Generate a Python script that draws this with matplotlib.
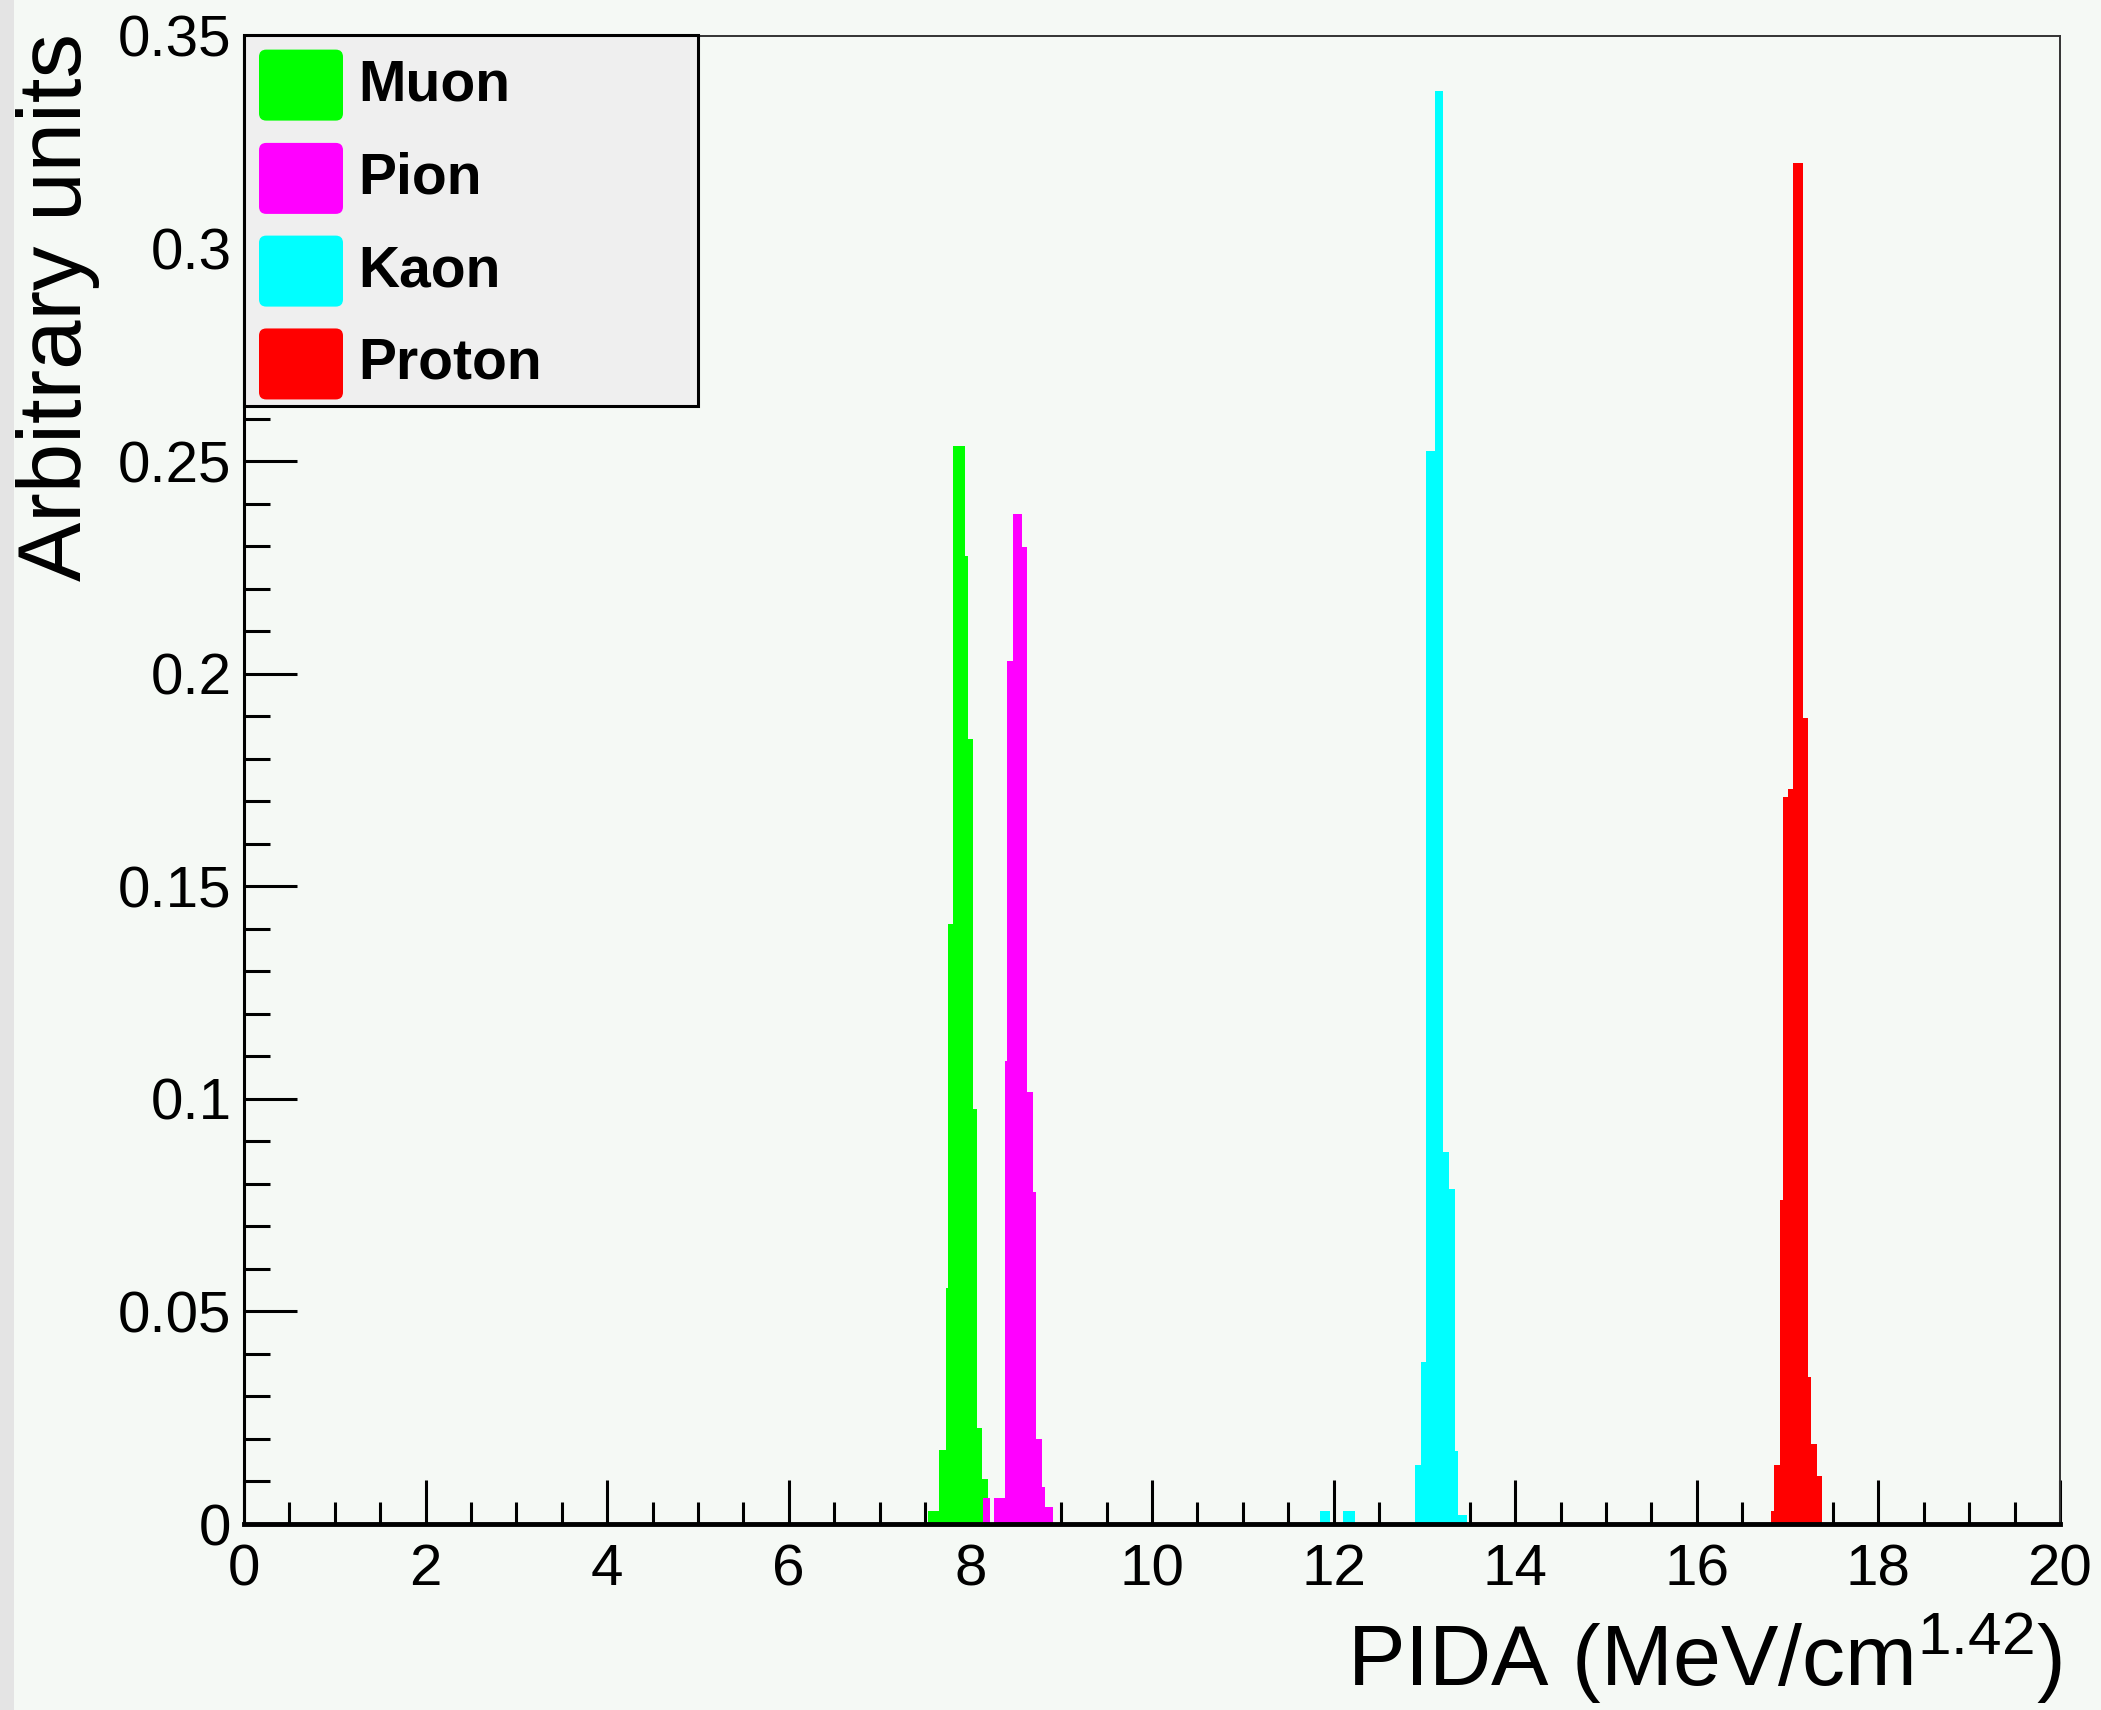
import numpy as np
import matplotlib
matplotlib.use("Agg")
from matplotlib import pyplot as plt
from matplotlib.patches import Rectangle, FancyBboxPatch
from matplotlib.ticker import MultipleLocator, FuncFormatter

plt.rcParams['font.family'] = ['Liberation Sans', 'DejaVu Sans']
plt.rcParams['mathtext.default'] = 'regular'

# histogram bins (bin edges and heights)
species = ["Muon", "Pion", "Kaon", "Proton"]
colors = ["#00ff00", "#ff00ff", "#00ffff", "#ff0000"]

muon_edges = [7.537, 7.657, 7.728, 7.757, 7.812, 7.941, 7.977, 8.032, 8.069, 8.124, 8.197]
muon_vals = [0.003, 0.0174, 0.0555, 0.1412, 0.2536, 0.2277, 0.1846, 0.0976, 0.0226, 0.0107]

pion_edges = [8.135, 8.216, 8.26, 8.381, 8.407, 8.473, 8.565, 8.627, 8.693, 8.722, 8.785, 8.822, 8.913]
pion_vals = [0.006, 0.0, 0.006, 0.1089, 0.2031, 0.2376, 0.2297, 0.1016, 0.0782, 0.0199, 0.0087, 0.004]

kaon_edges = [11.85, 11.96, 12.10, 12.24, 12.896, 12.959, 13.018, 13.117, 13.208, 13.271, 13.337, 13.374, 13.466]
kaon_vals = [0.003, 0.0, 0.003, 0.0, 0.0139, 0.038, 0.2524, 0.337, 0.0875, 0.0788, 0.0172, 0.002]

proton_edges = [16.817, 16.85, 16.916, 16.946, 17.008, 17.063, 17.166, 17.228, 17.258, 17.32, 17.382]
proton_vals = [0.003, 0.0139, 0.0762, 0.1711, 0.173, 0.3202, 0.1897, 0.0346, 0.0188, 0.0113]

all_edges = [muon_edges, pion_edges, kaon_edges, proton_edges]
all_vals = [muon_vals, pion_vals, kaon_vals, proton_vals]

bg = "#f5f9f5"
fig = plt.figure(figsize=(21.01, 17.10), dpi=100, facecolor=bg)
ax = fig.add_axes([244/2101, 1-1524/1710, (2060-244)/2101, (1524-36)/1710])
ax.set_facecolor(bg)

# grey strip at the very left of the screenshot
fig.patches.append(Rectangle((0, 0), 14/2101, 1, transform=fig.transFigure,
                             facecolor="#e4e4e4", edgecolor="none", zorder=0))

for e, v, c in zip(all_edges, all_vals, colors):
    ax.stairs(v, e, fill=True, color=c, baseline=0, zorder=2)

ax.set_xlim(0, 20)
ax.set_ylim(0, 0.35)

ax.xaxis.set_major_locator(MultipleLocator(2))
ax.xaxis.set_minor_locator(MultipleLocator(0.5))
ax.yaxis.set_major_locator(MultipleLocator(0.05))
ax.yaxis.set_minor_locator(MultipleLocator(0.01))
ax.yaxis.set_major_formatter(FuncFormatter(lambda v, p: "%g" % round(v, 3)))

ax.tick_params(which='both', direction='in', top=False, right=False, width=2.2, color='black')
ax.tick_params(axis='x', which='major', length=32, pad=14, labelsize=42)
ax.tick_params(axis='x', which='minor', length=16)
ax.tick_params(axis='y', which='major', length=38, pad=9, labelsize=42)
ax.tick_params(axis='y', which='minor', length=19)

ax.spines['bottom'].set_linewidth(3.5)
ax.spines['left'].set_linewidth(2.2)
for s in ['top', 'right']:
    ax.spines[s].set_linewidth(1.4)
    ax.spines[s].set_color('#333333')
for s in ax.spines.values():
    s.set_zorder(3)

fig.text(2062/2101, 24/1710, "PIDA (MeV/cm$^{1.42}$)", ha='right', va='baseline', fontsize=62)
fig.text(58/2101, 1-33/1710, "Arbitrary units", rotation=90, ha='center', va='top', fontsize=64)

# legend box
x0 = 0.0
y0 = (1524-406)/1488
ax.add_patch(Rectangle((x0, y0), (698-244)/1816, 1.0-y0+0.001, transform=ax.transAxes,
                       facecolor="#efefef", edgecolor="black", linewidth=2.2,
                       clip_on=False, zorder=5))
row_y = [0.967, 0.9043, 0.842, 0.7796]
sw_w = (343-259)/1816
sw_h = 71/1488
for name, c, yc in zip(species, colors, row_y):
    ax.add_patch(FancyBboxPatch((15/1816, yc - sw_h/2), sw_w, sw_h,
                                boxstyle="round,pad=0,rounding_size=0.004",
                                mutation_aspect=1.22, transform=ax.transAxes,
                                facecolor=c, edgecolor="none", clip_on=False, zorder=6))
    ax.text((358-244)/1816, yc, name, transform=ax.transAxes, ha='left', va='center',
            fontsize=41, fontweight='bold', zorder=7)

fig.savefig("out.png", dpi=100, facecolor=bg)
